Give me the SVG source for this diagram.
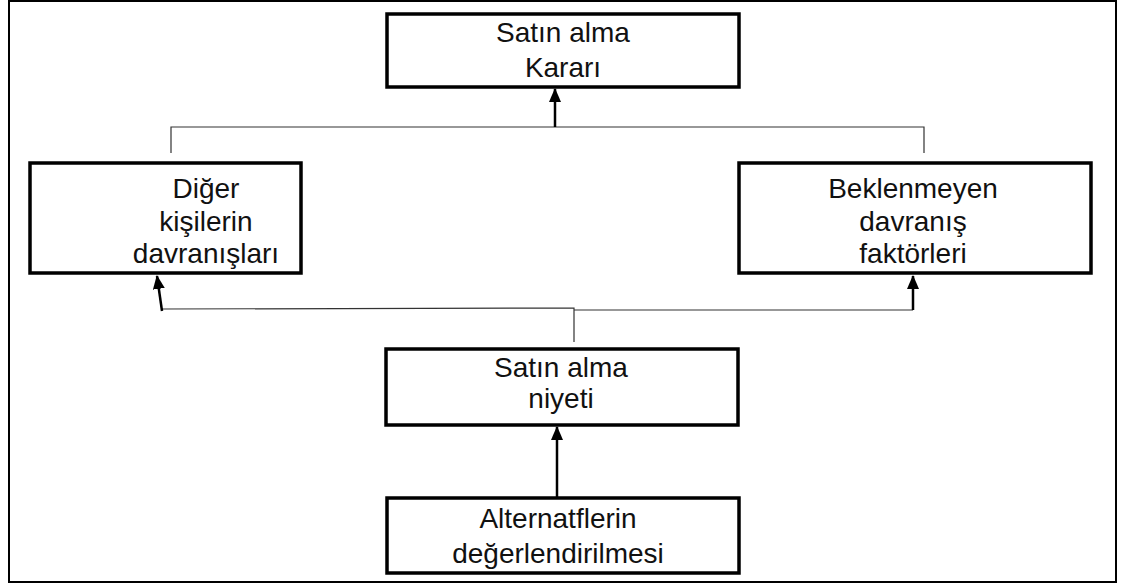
<svg xmlns="http://www.w3.org/2000/svg" width="1121" height="586" viewBox="0 0 1121 586">
  <defs>
    <marker id="head" viewBox="0 0 14 12" refX="13" refY="6" markerWidth="14" markerHeight="12" markerUnits="userSpaceOnUse" orient="auto">
      <path d="M0,0 L14,6 L0,12 Z" fill="#000"/>
    </marker>
    <style>
      .box { fill: #fff; stroke: #000; stroke-width: 3.5; }
      .lbl { font-family: "Liberation Sans", Arial, sans-serif; font-size: 28px; fill: #111; text-anchor: middle; }
      .thin { fill: none; stroke: #333; stroke-width: 1.2; }
      .arrow { fill: none; stroke: #000; stroke-width: 2.5; }
    </style>
  </defs>

  <rect width="1121" height="586" fill="#fff"/>
  <!-- outer frame -->
  <rect x="9" y="1" width="1107" height="581" fill="none" stroke="#000" stroke-width="2"/>

  <g id="connectors">
    <!-- top bracket joining the two side boxes -->
    <polyline class="thin" points="171,153 171,127 924,127 924,153"/>
    <line class="arrow" x1="555" y1="127" x2="555" y2="89" marker-end="url(#head)"/>
    <!-- lower bracket from intention to side boxes -->
    <polyline class="thin" points="162,309 574,308 574,342"/>
    <polyline class="thin" points="574,310 913,310"/>
    <line class="arrow" x1="162" y1="311" x2="157" y2="276" marker-end="url(#head)"/>
    <line class="arrow" x1="913" y1="310" x2="913" y2="276" marker-end="url(#head)"/>
    <!-- evaluation to intention -->
    <line class="arrow" x1="557" y1="497" x2="557" y2="427" marker-end="url(#head)"/>
  </g>

  <g id="satin-alma-karari">
    <rect class="box" x="387" y="14" width="352" height="73"/>
    <text class="lbl" x="563" y="42">Satın alma</text>
    <text class="lbl" x="563" y="77">Kararı</text>
  </g>

  <g id="diger-kisilerin-davranislari">
    <rect class="box" x="30" y="163" width="271" height="110"/>
    <text class="lbl" x="206" y="198">Diğer</text>
    <text class="lbl" x="206" y="231">kişilerin</text>
    <text class="lbl" x="206" y="263">davranışları</text>
  </g>

  <g id="beklenmeyen-davranis-faktorleri">
    <rect class="box" x="739" y="163" width="352" height="110"/>
    <text class="lbl" x="913" y="198">Beklenmeyen</text>
    <text class="lbl" x="913" y="231">davranış</text>
    <text class="lbl" x="913" y="263">faktörleri</text>
  </g>

  <g id="satin-alma-niyeti">
    <rect class="box" x="386" y="349" width="352" height="76"/>
    <text class="lbl" x="561" y="377">Satın alma</text>
    <text class="lbl" x="561" y="408">niyeti</text>
  </g>

  <g id="alternatiflerin-degerlendirilmesi">
    <rect class="box" x="387" y="498" width="352" height="75"/>
    <text class="lbl" x="558" y="528">Alternatflerin</text>
    <text class="lbl" x="558" y="563">değerlendirilmesi</text>
  </g>
</svg>
